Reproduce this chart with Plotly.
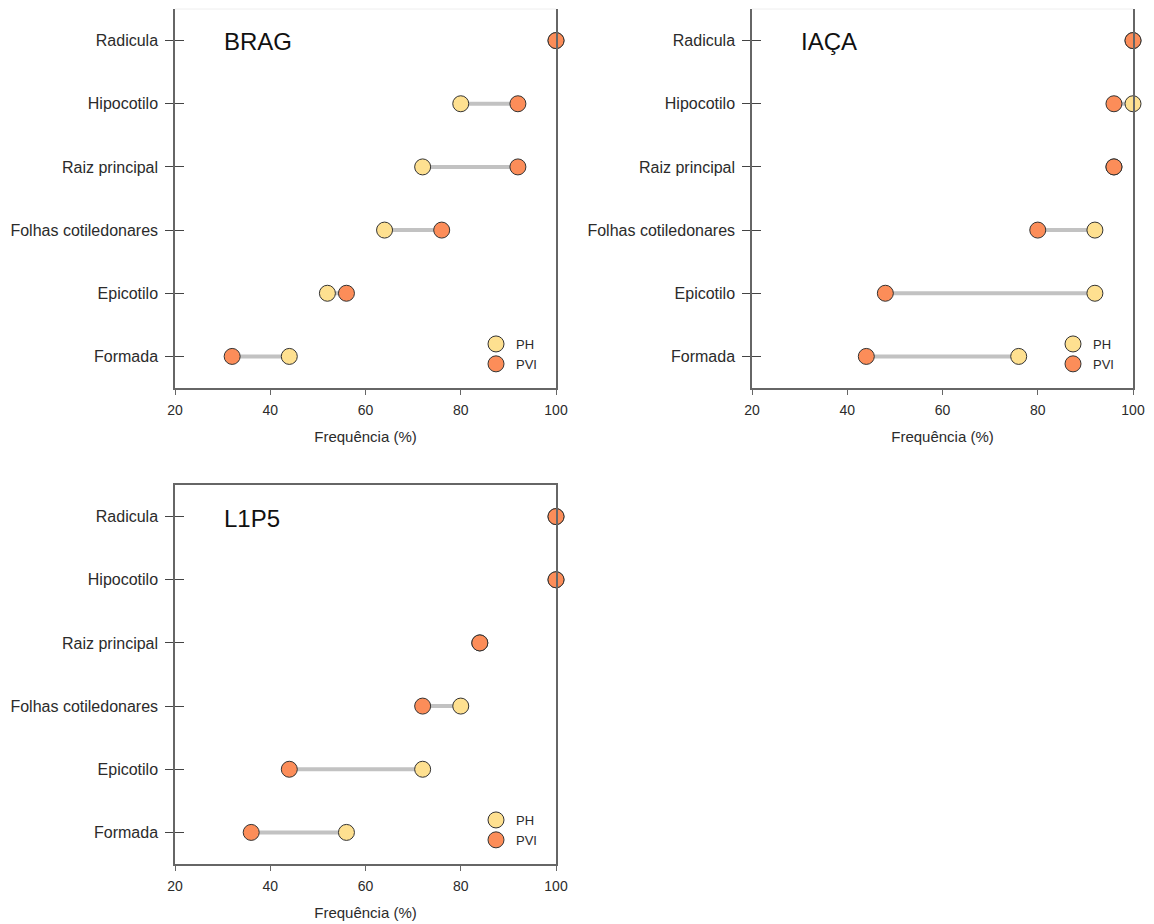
import plotly.graph_objects as go

# Germination structures (bottom to top)
categories = ["Formada", "Epicotilo", "Folhas cotiledonares", "Raiz principal", "Hipocotilo", "Radicula"]

# Frequency (%) per genotype and treatment
brag_ph = [44, 52, 64, 72, 80, 100]
brag_pvi = [32, 56, 76, 92, 92, 100]
iaca_ph = [76, 92, 92, 96, 100, 100]
iaca_pvi = [44, 48, 80, 96, 96, 100]
l1p5_ph = [56, 72, 80, 84, 100, 100]
l1p5_pvi = [36, 44, 72, 84, 100, 100]

panel_titles = ["BRAG", "IAÇA", "L1P5"]
x_ticks = [20, 40, 60, 80, 100]

PH_COLOR = "#fee090"
PVI_COLOR = "#fc8d59"
SEG_COLOR = "#c2c2c2"
AXIS_COLOR = "#666666"
TEXT_COLOR = "#2b2b2b"
FONT = "Liberation Sans, Arial, sans-serif"

W, H = 1154, 924

# panel boxes in pixels: (left, right, top, bottom)
boxes = [(175, 556, 9, 388), (752, 1133, 9, 388), (175, 556, 485, 864)]

panels = [
    (brag_ph, brag_pvi),
    (iaca_ph, iaca_pvi),
    (l1p5_ph, l1p5_pvi),
]

fig = go.Figure()

for i, ((ph, pvi), (l, r, t, b), title) in enumerate(zip(panels, boxes, panel_titles)):
    n = i + 1
    xa = "x" if n == 1 else f"x{n}"
    ya = "y" if n == 1 else f"y{n}"
    leg = "legend" if n == 1 else f"legend{n}"

    # connecting segments between the two treatments
    seg_x, seg_y = [], []
    for c, a, z in zip(categories, ph, pvi):
        seg_x += [a, z, None]
        seg_y += [c, c, None]
    fig.add_trace(go.Scatter(
        x=seg_x, y=seg_y, mode="lines", xaxis=xa, yaxis=ya,
        line=dict(color=SEG_COLOR, width=4), showlegend=False, hoverinfo="skip",
    ))
    fig.add_trace(go.Scatter(
        x=ph, y=categories, mode="markers", name="PH", xaxis=xa, yaxis=ya, legend=leg,
        marker=dict(size=16, color=PH_COLOR, line=dict(color="#333333", width=1)),
        cliponaxis=False,
    ))
    fig.add_trace(go.Scatter(
        x=pvi, y=categories, mode="markers", name="PVI", xaxis=xa, yaxis=ya, legend=leg,
        marker=dict(size=16, color=PVI_COLOR, line=dict(color="#333333", width=1)),
        cliponaxis=False,
    ))

    xd = [l / W, r / W]
    yd = [1 - b / H, 1 - t / H]
    top_panel = t < 50

    xkey = "xaxis" if n == 1 else f"xaxis{n}"
    ykey = "yaxis" if n == 1 else f"yaxis{n}"
    fig.update_layout(**{
        xkey: dict(
            domain=xd, anchor=ya, range=[20, 100], tickvals=x_ticks, automargin=False,
            showgrid=False, zeroline=False, showline=True, linecolor=AXIS_COLOR, linewidth=1.5,
            mirror=not top_panel, ticks="outside", ticklen=5, tickcolor=AXIS_COLOR,
            ticklabelstandoff=3,
            tickfont=dict(family=FONT, size=14, color=TEXT_COLOR),
            title=dict(text="Frequência (%)", font=dict(family=FONT, size=15, color=TEXT_COLOR), standoff=15),
        ),
        ykey: dict(
            domain=yd, anchor=xa, type="category", categoryorder="array", categoryarray=categories,
            range=[-0.5, 5.5], showgrid=False, zeroline=False, showline=True, automargin=False,
            linecolor=AXIS_COLOR, linewidth=1.5, mirror=True,
            ticks="outside", ticklen=8, tickcolor="#444444", ticklabelstandoff=4,
            tickfont=dict(family=FONT, size=16, color=TEXT_COLOR),
        ),
        leg: dict(
            x=(r - 80) / W, y=1 - (b - 59) / H, xanchor="left", yanchor="top",
            bgcolor="rgba(0,0,0,0)", font=dict(family=FONT, size=13, color=TEXT_COLOR),
            tracegroupgap=0, itemsizing="trace",
        ),
    })

    # inner half of the category ticks, crossing the left axis line
    ovkey = f"yaxis{n + 3}"
    fig.update_layout(**{
        ovkey: dict(
            overlaying=ya, matches=ya, anchor=xa, type="category", categoryorder="array",
            categoryarray=categories, showgrid=False, zeroline=False, showline=False,
            automargin=False, ticks="inside", ticklen=9, tickcolor="#444444", showticklabels=False,
        ),
    })
    fig.add_trace(go.Scatter(x=[None], y=[categories[0]], xaxis=xa, yaxis=f"y{n + 3}",
                             showlegend=False, hoverinfo="skip"))

    if top_panel:
        fig.add_shape(type="line", xref=f"{xa} domain", yref=f"{ya} domain",
                      x0=0, x1=1, y0=1, y1=1, line=dict(color="#eeeeee", width=1))

    fig.add_annotation(
        text=title, xref=f"{xa} domain", yref=f"{ya} domain",
        x=47 / (r - l), y=(b - (t + 33)) / (b - t), xanchor="left", yanchor="middle",
        showarrow=False, font=dict(family=FONT, size=24, color="#111111"),
    )

fig.update_layout(
    width=W, height=H, margin=dict(l=0, r=0, t=0, b=0),
    plot_bgcolor="white", paper_bgcolor="white",
)

fig.write_html("out.html")
